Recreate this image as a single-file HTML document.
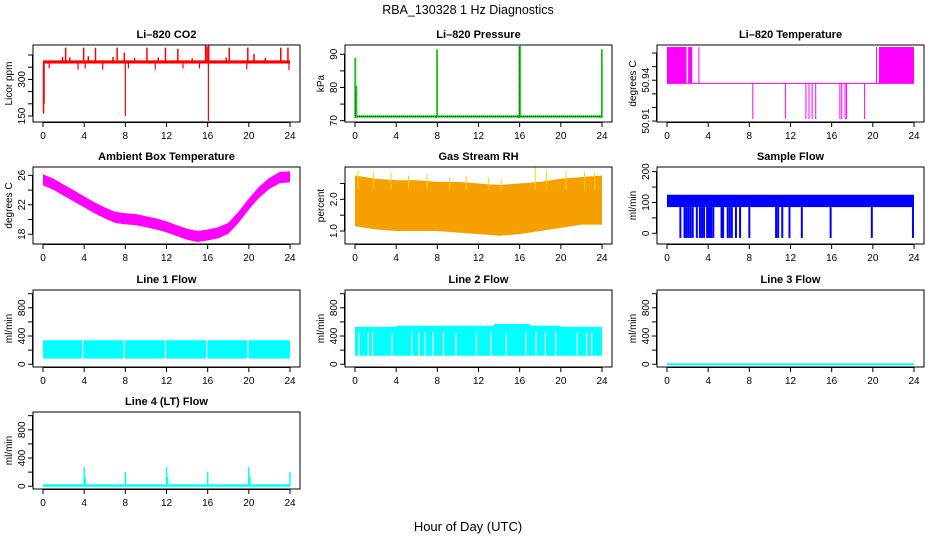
<!DOCTYPE html>
<html><head><meta charset="utf-8"><style>
html,body{margin:0;padding:0;background:#fff;}
svg{display:block;font-family:"Liberation Sans",Arial,sans-serif;}
</style></head><body>
<svg id="chart" width="936" height="540" viewBox="0 0 936 540" xmlns="http://www.w3.org/2000/svg">
<text x="468" y="14" text-anchor="middle" font-size="12.5">RBA_130328  1 Hz Diagnostics</text>
<text x="468" y="531" text-anchor="middle" font-size="13">Hour of Day (UTC)</text>
</svg>
<script>
// ---- data ----
const hourTicks = [0,4,8,12,16,20,24];
// CO2
const co2Base = [365, 378];
const co2SpikeHours = [0.05,0.1,2.2,3.95,5.1,7.2,7.9,10.1,11.9,13.1,15.8,15.95,16.1,18.1,19.9,20.5,23.1,23.8,1.9,2.6,4.4,6.8,8.9,11.2,14.5,17.8,21.6];
const co2SpikeValues = [160,200,430,430,430,430,410,430,430,425,440,435,440,430,430,405,430,430,392,390,395,392,388,390,386,390,388];
const co2DownHours = [8.0,16.07,0.6,3.4,4.1,5.8,8.3,10.9,13.6,15.2,19.8,23.9];
const co2DownValues = [150,130,345,340,345,340,345,340,345,345,342,338];
// Pressure
const presBase = [70.9, 71.6];
const presSpikeHours = [0.05,0.15,8.0,16.0,16.05,24.0];
const presSpikeValues = [89,80.5,91.5,92.5,92.5,91.5];
// Li-820 temperature
const tempLevels = [50.9115,50.9377,50.9644];
const tempHighStart = [0,2.05,20.6];
const tempHighEnd = [1.9,2.45,24];
const tempHighLines = [3.1,20.35];
const tempLowLines = [8.34,11.5,13.5,13.8,14.1,14.45,16.8,16.98,17.3,17.45,19.2];
// Ambient box temperature
const ambHours = [0,1,2,3,4,5,6,7,8,9,10,11,12,13,14,15,16,17,18,19,20,21,22,23,24];
const ambValues = [25.4,24.8,24.0,23.2,22.4,21.6,20.9,20.3,20.1,20.0,19.7,19.4,19.0,18.5,18.0,17.7,17.9,18.2,18.8,20.3,22.1,23.7,24.9,25.7,25.8];
// RH
const rhHours = [0,2,4,6,8,10,12,14,16,18,20,22,24];
const rhUpper = [2.75,2.65,2.6,2.6,2.55,2.55,2.5,2.45,2.5,2.55,2.65,2.7,2.75];
const rhLower = [1.15,1.05,1.0,1.0,1.0,0.95,0.9,0.85,0.9,1.0,1.1,1.2,1.2];
const rhSpikeHours = [0.3,1.8,3.5,5.2,7.0,9.2,10.8,13.0,14.2,17.5,18.6,20.5,22.3,23.3];
const rhSpikeValues = [2.9,2.85,2.85,2.75,2.8,2.7,2.75,2.7,2.65,3.0,2.9,2.9,2.85,2.85];
// Sample flow
const sfBand = [85,125];
const sfDropHours = [1.3,1.7,1.9,2.1,2.3,2.5,2.9,3.2,3.4,3.6,3.9,4.05,4.15,4.3,4.5,5.3,5.45,5.9,6.1,6.3,6.7,7.1,8.0,10.6,10.8,11.2,11.9,13.1,15.9,19.9,23.9];
const sfDropValue = -15;
// Line 1 flow
const l1Band = [80,340];
const l1Gaps = [3.85,7.9,11.9,15.9,19.9];
// Line 2 flow
const l2Hours = [0,4,8,12,13.5,17,20,24];
const l2Upper = [530,545,545,545,570,545,530,530];
const l2Lower = 120;
const l2Gaps = [0.4,1.3,1.7,3.6,5.5,6.2,6.8,7.6,8.6,9.8,11.8,13.2,14.7,16.6,17.6,18.5,19.5,21.6,22.5,23.0];
// Line 3 flow
const l3Value = 0;
// Line 4 flow
const l4Base = 10;
const l4SpikeHours = [4,4.1,8,12,12.1,16,20,20.1,24];
const l4SpikeValues = [270,130,200,270,130,200,270,130,200];

// ---- drawing ----
const svg = document.getElementById('chart');
const NS = 'http://www.w3.org/2000/svg';
function mk(tag, attrs, parent, name){
  const el = document.createElementNS(NS, tag);
  for (const k in attrs) el.setAttribute(k, attrs[k]);
  
  
  (parent||svg).appendChild(el);
  return el;
}
const colX0 = [43,355,667], colX24 = [290,602,914];
const rowTop = [45,167,290,412], H = 77;

function panel(col,row,key,title,ylab,ylim,ticks,labels){
  const g = mk('g',{},svg,key+'-panel');
  const x = h => colX0[col] + (colX24[col]-colX0[col])*h/24;
  const top = rowTop[row], bot = top+H;
  const y = v => bot - (v-ylim[0])/(ylim[1]-ylim[0])*H;
  const L = colX0[col]-10, R = colX24[col]+10;
  const marks = mk('g',{},g,key+'-marks');
  mk('text',{x:(L+R)/2,y:top-7,'text-anchor':'middle','font-size':11,'font-weight':'bold'},g,key+'-title').textContent = title;
  mk('rect',{x:L,y:top,width:R-L,height:H,fill:'none',stroke:'#000','stroke-width':1},g,key+'-frame');
  const xa = mk('g',{},g,key+'-x-axis');
  mk('line',{x1:x(0),x2:x(24),y1:bot+0.5,y2:bot+0.5,stroke:'#000'},xa,'x-axis-line');
  hourTicks.forEach(h=>{
    mk('line',{x1:x(h),x2:x(h),y1:bot,y2:bot+5,stroke:'#000'},xa,'x-tick');
    mk('text',{x:x(h),y:bot+17,'text-anchor':'middle','font-size':10},xa,'x-tick-label').textContent = h;
  });
  const ya = mk('g',{},g,key+'-y-axis');
  mk('line',{x1:L-0.5,x2:L-0.5,y1:y(ticks[0]),y2:y(ticks[ticks.length-1]),stroke:'#000'},ya,'y-axis-line');
  ticks.forEach(t=>{
    mk('line',{x1:L-5,x2:L,y1:y(t),y2:y(t),stroke:'#000'},ya,'y-tick');
  });
  labels.forEach(t=>{
    const yy=y(parseFloat(t));
    mk('text',{x:L-8,y:yy,'text-anchor':'middle','font-size':10,transform:`rotate(-90 ${L-8} ${yy})`},ya,'y-tick-label').textContent = t;
  });
  mk('text',{x:L-21,y:(top+bot)/2,'text-anchor':'middle','font-size':10,transform:`rotate(-90 ${L-21} ${(top+bot)/2})`},ya,key+'-y-title').textContent = ylab;
  return {x,y,g:marks};
}
function vline(p,h,v1,v2,color,w,name){
  mk('line',{x1:p.x(h),x2:p.x(h),y1:p.y(v1),y2:p.y(v2),stroke:color,'stroke-width':w},p.g,name);
}
function bandRect(p,h1,h2,v1,v2,fill,name){
  const a=p.y(v1),b=p.y(v2);
  mk('rect',{x:p.x(h1),y:Math.min(a,b),width:p.x(h2)-p.x(h1),height:Math.abs(a-b),fill:fill},p.g,name);
}

// CO2
let p = panel(0,0,'co2','Li\u2013820 CO2','Licor ppm',[125.4,441],[150,200,250,300,350,400],['150','300']);
bandRect(p,0,24,co2Base[0],co2Base[1],'#ff0000','co2-baseline');
co2SpikeHours.forEach((h,i)=>vline(p,h,co2Base[0],co2SpikeValues[i],'#ff0000',1.5,'co2-spike'));
co2DownHours.forEach((h,i)=>vline(p,h,co2Base[1],co2DownValues[i],'#ff0000',1.2,'co2-dip'));

// Pressure
p = panel(1,0,'pressure','Li\u2013820 Pressure','kPa',[69.6,92.8],[70,75,80,85,90],['70','80','90']);
bandRect(p,0,24,presBase[0],presBase[1],'#00e000','pressure-baseline');
mk('line',{x1:p.x(0),x2:p.x(24),y1:p.y(71.3),y2:p.y(71.3),stroke:'#000','stroke-dasharray':'1 1'},p.g,'pressure-dotted-line');
presSpikeHours.forEach((h,i)=>{
  vline(p,h,presBase[0],presSpikeValues[i],'#00e000',1.5,'pressure-spike');
  mk('line',{x1:p.x(h)-0.8,x2:p.x(h)-0.8,y1:p.y(presBase[0]),y2:p.y(presSpikeValues[i]),stroke:'#000','stroke-width':0.6,'stroke-dasharray':'1 1'},p.g,'pressure-spike-dotted');
});

// Li-820 temp
p = panel(2,0,'li820-temp','Li\u2013820 Temperature','degrees C',[50.9093,50.9659],[50.91,50.92,50.93,50.94,50.95,50.96],['50.91','50.94']);
mk('line',{x1:p.x(0),x2:p.x(24),y1:p.y(tempLevels[1]),y2:p.y(tempLevels[1]),stroke:'#ff00ff','stroke-width':1},p.g,'temp-mid-line');
tempHighStart.forEach((h,i)=>bandRect(p,h,tempHighEnd[i],tempLevels[1],tempLevels[2],'#ff00ff','temp-high-block'));
tempHighLines.forEach(h=>vline(p,h,tempLevels[1],tempLevels[2],'#ff00ff',1,'temp-high-line'));
tempLowLines.forEach(h=>vline(p,h,tempLevels[1],tempLevels[0],'#ff00ff',1,'temp-low-line'));

// Ambient
p = panel(0,1,'ambient','Ambient Box Temperature','degrees C',[16.68,27.13],[18,20,22,24,26],['18','22','26']);
{
  const up = ambHours.map((h,i)=>p.x(h)+','+p.y(ambValues[i]+0.75));
  const lo = ambHours.map((h,i)=>p.x(h)+','+p.y(ambValues[i]-0.75)).reverse();
  mk('polygon',{points:up.concat(lo).join(' '),fill:'#ff00ff'},p.g,'ambient-band');
}

// RH
p = panel(1,1,'rh','Gas Stream RH','percent',[0.59,3.02],[1.0,1.5,2.0,2.5],['1.0','2.0']);
{
  const up = rhHours.map((h,i)=>p.x(h)+','+p.y(rhUpper[i]));
  const lo = rhHours.map((h,i)=>p.x(h)+','+p.y(rhLower[i])).reverse();
  mk('polygon',{points:up.concat(lo).join(' '),fill:'#f5a000'},p.g,'rh-band');
}
rhSpikeHours.forEach((h,i)=>vline(p,h,2.3,rhSpikeValues[i],'#ffd000',1,'rh-spike'));

// Sample flow
p = panel(2,1,'sample-flow','Sample Flow','ml/min',[-34.7,215],[0,50,100,150,200],['0','100','200']);
bandRect(p,0,24,sfBand[0],sfBand[1],'#0000ff','sample-flow-band');
sfDropHours.forEach(h=>vline(p,h,sfBand[0],sfDropValue,'#0000ff',2,'sample-flow-dropout'));

// Line 1
p = panel(0,2,'line1','Line 1 Flow','ml/min',[-39,1052],[0,200,400,600,800,1000],['0','400','800']);
bandRect(p,0,24,l1Band[0],l1Band[1],'#00ffff','line1-band');
l1Gaps.forEach(h=>vline(p,h,l1Band[0],l1Band[1],'#ffffff',1.2,'line1-gap'));

// Line 2
p = panel(1,2,'line2','Line 2 Flow','ml/min',[-39,1052],[0,200,400,600,800,1000],['0','400','800']);
{
  const pts=[];
  l2Hours.forEach((h,i)=>{ if(i<l2Hours.length-1){ pts.push(p.x(h)+','+p.y(l2Upper[i])); pts.push(p.x(l2Hours[i+1])+','+p.y(l2Upper[i])); } });
  pts.push(p.x(24)+','+p.y(l2Lower)); pts.push(p.x(0)+','+p.y(l2Lower));
  mk('polygon',{points:pts.join(' '),fill:'#00ffff'},p.g,'line2-band');
}
l2Gaps.forEach(h=>vline(p,h,l2Lower+10,450,'#ffffff',1.2,'line2-gap'));

// Line 3
p = panel(2,2,'line3','Line 3 Flow','ml/min',[-39,1052],[0,200,400,600,800,1000],['0','400','800']);
mk('line',{x1:p.x(0),x2:p.x(24),y1:p.y(l3Value),y2:p.y(l3Value),stroke:'#00ffff','stroke-width':2},p.g,'line3-line');

// Line 4
p = panel(0,3,'line4','Line 4 (LT) Flow','ml/min',[-39,1052],[0,200,400,600,800,1000],['0','400','800']);
mk('line',{x1:p.x(0),x2:p.x(24),y1:p.y(l4Base),y2:p.y(l4Base),stroke:'#00ffff','stroke-width':2.5},p.g,'line4-baseline');
l4SpikeHours.forEach((h,i)=>vline(p,h,l4Base,l4SpikeValues[i],'#00ffff',1.5,'line4-spike'));
</script>
</body></html>
